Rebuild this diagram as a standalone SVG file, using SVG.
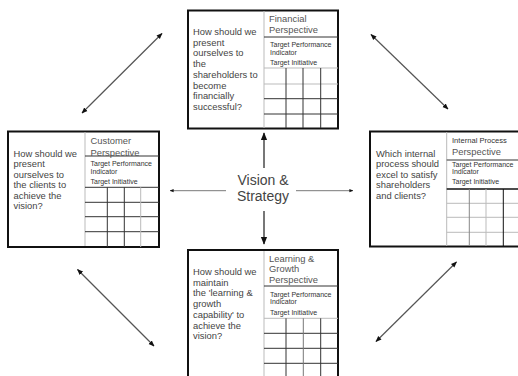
<svg xmlns="http://www.w3.org/2000/svg" width="518" height="376" viewBox="0 0 518 376">
<style>
.box{fill:#fff;stroke:#111;stroke-width:2}
.dk{stroke:#333;stroke-width:1}
.lt{stroke:#bbb;stroke-width:1}
.q{font-family:"Liberation Sans",Arial,sans-serif;font-size:9.4px;fill:#444}
.h{font-family:"Liberation Sans",Arial,sans-serif;font-size:9.4px;fill:#555}
.s{font-family:"Liberation Sans",Arial,sans-serif;font-size:7px;fill:#333}
.v{font-family:"Liberation Sans",Arial,sans-serif;font-size:14px;fill:#444;text-anchor:middle}
.ar{stroke:#555;fill:none}
</style>
<defs>
<marker id="ah" viewBox="0 0 10 10" refX="9" refY="5" markerWidth="5" markerHeight="5" orient="auto-start-reverse">
<path d="M0,1 L10,5 L0,9 z" fill="#111"/>
</marker>
</defs>
<rect width="518" height="376" fill="#fff"/>
<g id="connectors">
<line class="ar" x1="264" y1="168" x2="264" y2="133" stroke-width="1.6" marker-end="url(#ah)"/>
<line class="ar" x1="264" y1="211" x2="264" y2="244" stroke-width="1.6" marker-end="url(#ah)"/>
<line class="ar" x1="226" y1="190.7" x2="170" y2="190.7" stroke-width="0.8" marker-end="url(#ah)"/>
<line class="ar" x1="296" y1="190.7" x2="353" y2="190.7" stroke-width="0.8" marker-end="url(#ah)"/>
<line class="ar" x1="82" y1="113" x2="162" y2="33.5" stroke-width="1.2" marker-start="url(#ah)" marker-end="url(#ah)"/>
<line class="ar" x1="371" y1="34.5" x2="448" y2="109" stroke-width="1.2" marker-start="url(#ah)" marker-end="url(#ah)"/>
<line class="ar" x1="77.5" y1="269.5" x2="154" y2="346" stroke-width="1.2" marker-start="url(#ah)" marker-end="url(#ah)"/>
<line class="ar" x1="376" y1="341.5" x2="456.5" y2="262" stroke-width="1.2" marker-start="url(#ah)" marker-end="url(#ah)"/>
</g>
<g id="vision">
<text class="v" x="263" y="185">Vision &amp;</text>
<text class="v" x="263" y="201">Strategy</text>
</g>
<g id="financial">
<rect class="box" x="188" y="10.5" width="150" height="118"/>
<line class="lt" x1="264" y1="11" x2="264" y2="128"/>
<line class="dk" x1="264" y1="37" x2="338" y2="37"/>
<line class="lt" x1="264" y1="68" x2="338" y2="68"/>
<line class="lt" x1="264" y1="84" x2="338" y2="84"/>
<line class="dk" x1="264" y1="98.7" x2="338" y2="98.7"/>
<line class="dk" x1="264" y1="114" x2="338" y2="114"/>
<line class="dk" x1="286" y1="68" x2="286" y2="128"/>
<line class="dk" x1="303" y1="68" x2="303" y2="128"/>
<line class="dk" x1="320.7" y1="68" x2="320.7" y2="128"/>
<text class="h" x="269" y="22">Financial</text>
<text class="h" x="269" y="32.5">Perspective</text>
<text class="s" x="270" y="46.5">Target Performance</text>
<text class="s" x="270" y="54.5">Indicator</text>
<text class="s" x="270" y="65">Target Initiative</text>
<text class="q" x="193" y="35">How should we</text>
<text class="q" x="193" y="45.7">present</text>
<text class="q" x="193" y="56.4">ourselves to</text>
<text class="q" x="193" y="67.1">the</text>
<text class="q" x="193" y="77.8">shareholders to</text>
<text class="q" x="193" y="88.5">become</text>
<text class="q" x="193" y="99.2">financially</text>
<text class="q" x="193" y="109.9">successful?</text>
</g>
<g id="customer">
<rect class="box" x="8" y="131.5" width="151" height="115.5"/>
<line class="lt" x1="85" y1="132" x2="85" y2="246"/>
<line class="dk" x1="85" y1="156" x2="159" y2="156"/>
<line class="dk" x1="85" y1="187.3" x2="159" y2="187.3"/>
<line class="dk" x1="85" y1="202.3" x2="159" y2="202.3"/>
<line class="dk" x1="85" y1="216.7" x2="159" y2="216.7"/>
<line class="dk" x1="85" y1="231.7" x2="159" y2="231.7"/>
<line class="dk" x1="107.3" y1="187.3" x2="107.3" y2="247"/>
<line class="dk" x1="124.3" y1="187.3" x2="124.3" y2="247"/>
<line class="lt" x1="140.7" y1="187.3" x2="140.7" y2="247"/>
<text class="h" x="90.5" y="143.5">Customer</text>
<text class="h" x="90.5" y="156">Perspective</text>
<text class="s" x="90.5" y="166">Target Performance</text>
<text class="s" x="90.5" y="173.5">Indicator</text>
<text class="s" x="90.5" y="183.5">Target Initiative</text>
<text class="q" x="13.5" y="156.5">How should we</text>
<text class="q" x="13.5" y="167">present</text>
<text class="q" x="13.5" y="177.5">ourselves to</text>
<text class="q" x="13.5" y="188">the clients to</text>
<text class="q" x="13.5" y="198.5">achieve the</text>
<text class="q" x="13.5" y="209">vision?</text>
</g>
<g id="internal">
<rect class="box" x="370" y="131.5" width="152" height="115"/>
<line class="lt" x1="446.7" y1="132" x2="446.7" y2="246"/>
<line class="dk" x1="446.7" y1="160" x2="518" y2="160"/>
<line x1="446.7" y1="189" x2="518" y2="189" stroke="#111" stroke-width="1.3"/>
<line class="lt" x1="446.7" y1="203.3" x2="518" y2="203.3"/>
<line class="lt" x1="446.7" y1="217.3" x2="518" y2="217.3"/>
<line class="lt" x1="446.7" y1="232.3" x2="518" y2="232.3"/>
<line x1="469.3" y1="189" x2="469.3" y2="246" stroke="#888" stroke-width="1"/>
<line class="lt" x1="486" y1="189" x2="486" y2="246"/>
<line x1="503.3" y1="189" x2="503.3" y2="246" stroke="#111" stroke-width="1"/>
<text class="s" x="452" y="142.5" style="font-size:7.6px">Internal Process</text>
<text class="h" x="452" y="155">Perspective</text>
<text class="s" x="452" y="167">Target Performance</text>
<text class="s" x="452" y="174">Indicator</text>
<text class="s" x="452" y="184">Target Initiative</text>
<text class="q" x="376" y="156.5">Which internal</text>
<text class="q" x="376" y="167">process should</text>
<text class="q" x="376" y="177.5">excel to satisfy</text>
<text class="q" x="376" y="188">shareholders</text>
<text class="q" x="376" y="198.5">and clients?</text>
</g>
<g id="learning">
<rect class="box" x="188" y="250" width="150" height="130"/>
<line class="lt" x1="264" y1="251" x2="264" y2="376"/>
<line class="dk" x1="264" y1="286" x2="338" y2="286"/>
<line class="lt" x1="264" y1="318.3" x2="338" y2="318.3"/>
<line class="dk" x1="264" y1="333.3" x2="338" y2="333.3"/>
<line class="dk" x1="264" y1="348.3" x2="338" y2="348.3"/>
<line class="dk" x1="264" y1="363.3" x2="338" y2="363.3"/>
<line class="dk" x1="286" y1="318.3" x2="286" y2="376"/>
<line x1="303.3" y1="318.3" x2="303.3" y2="376" stroke="#777" stroke-width="1"/>
<line class="dk" x1="320.7" y1="318.3" x2="320.7" y2="376"/>
<text class="h" x="269" y="261.5">Learning &amp;</text>
<text class="h" x="269" y="272">Growth</text>
<text class="h" x="269" y="282.5">Perspective</text>
<text class="s" x="270" y="297">Target Performance</text>
<text class="s" x="270" y="304">Indicator</text>
<text class="s" x="270" y="314.5">Target Initiative</text>
<text class="q" x="193" y="275">How should we</text>
<text class="q" x="193" y="285.7">maintain</text>
<text class="q" x="193" y="296.4">the 'learning &amp;</text>
<text class="q" x="193" y="307.1">growth</text>
<text class="q" x="193" y="317.8">capability' to</text>
<text class="q" x="193" y="328.5">achieve the</text>
<text class="q" x="193" y="339.2">vision?</text>
</g>
</svg>
